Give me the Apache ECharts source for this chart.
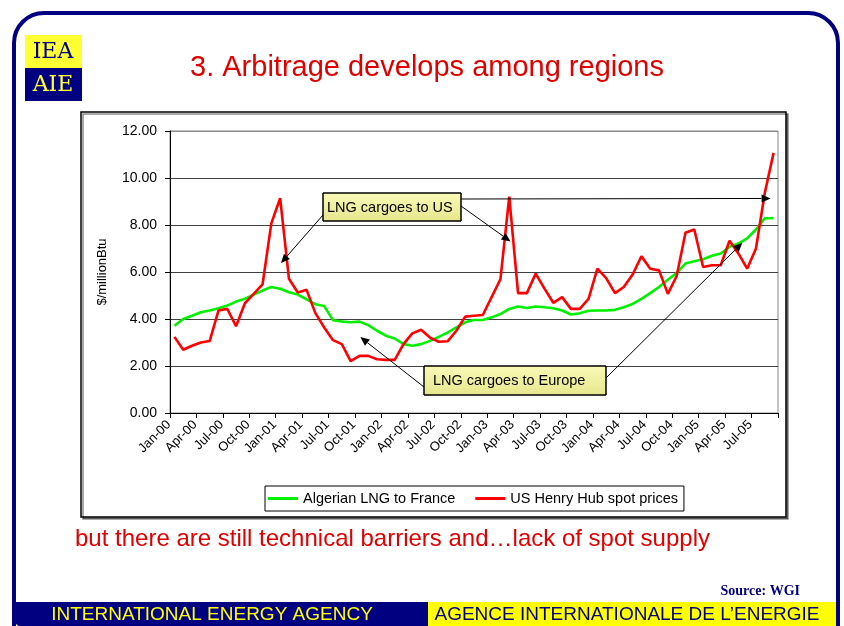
<!DOCTYPE html>
<html><head><meta charset="utf-8">
<script src="https://cdn.jsdelivr.net/npm/echarts@6/dist/echarts.min.js"></script>
<style>html,body{margin:0;padding:0;background:#fff}#c{width:844px;height:626px}</style>
</head><body><div id="c"></div>
<script>
// ---- data ----
const categories = ["Jan-00","Feb-00","Mar-00","Apr-00","May-00","Jun-00","Jul-00","Aug-00","Sep-00","Oct-00","Nov-00","Dec-00",
"Jan-01","Feb-01","Mar-01","Apr-01","May-01","Jun-01","Jul-01","Aug-01","Sep-01","Oct-01","Nov-01","Dec-01",
"Jan-02","Feb-02","Mar-02","Apr-02","May-02","Jun-02","Jul-02","Aug-02","Sep-02","Oct-02","Nov-02","Dec-02",
"Jan-03","Feb-03","Mar-03","Apr-03","May-03","Jun-03","Jul-03","Aug-03","Sep-03","Oct-03","Nov-03","Dec-03",
"Jan-04","Feb-04","Mar-04","Apr-04","May-04","Jun-04","Jul-04","Aug-04","Sep-04","Oct-04","Nov-04","Dec-04",
"Jan-05","Feb-05","Mar-05","Apr-05","May-05","Jun-05","Jul-05","Aug-05","Sep-05"];
const algerianLNG = [3.71,4.00,4.14,4.29,4.36,4.46,4.57,4.74,4.86,5.04,5.21,5.36,
5.29,5.14,5.04,4.84,4.63,4.55,3.95,3.89,3.86,3.89,3.74,3.50,
3.29,3.17,2.93,2.86,2.93,3.07,3.24,3.42,3.64,3.86,3.96,3.96,
4.07,4.21,4.43,4.53,4.47,4.53,4.50,4.46,4.36,4.19,4.24,4.35,
4.36,4.36,4.39,4.50,4.64,4.86,5.10,5.36,5.67,5.96,6.36,6.46,
6.54,6.69,6.79,7.07,7.21,7.43,7.81,8.29,8.29];
const henryHub = [3.24,2.69,2.86,3.00,3.06,4.36,4.43,3.69,4.67,5.07,5.47,8.07,
9.14,5.71,5.13,5.24,4.25,3.64,3.10,2.93,2.21,2.43,2.43,2.29,
2.26,2.26,2.93,3.39,3.54,3.21,3.03,3.05,3.50,4.10,4.14,4.17,
4.93,5.69,9.21,5.10,5.10,5.93,5.29,4.69,4.93,4.43,4.43,4.86,
6.14,5.74,5.10,5.36,5.89,6.67,6.14,6.07,5.07,5.83,7.67,7.81,
6.21,6.29,6.29,7.33,6.79,6.14,7.00,9.36,11.07];
const yTicks = [0,2,4,6,8,10,12];
const seriesNames = ["Algerian LNG to France","US Henry Hub spot prices"];
// annotation arrow tips in data coordinates [category index, value]
const annotTips = {us1:[12.1,6.38], us2:[38.15,7.3], us3:[67.66,9.13], eu1:[21.1,3.23], eu2:[64.45,7.24]};

const FONT = "Liberation Sans, Arial, Helvetica, sans-serif";
const NAVY = "#000080";

const chart = echarts.init(document.getElementById('c'), null, {renderer:'canvas'});

const staticGraphic = [
  {id:'frame', type:'rect', z:-20, shape:{x:14,y:13,width:824,height:640,r:[30,30,0,0]}, style:{fill:'#fff',stroke:NAVY,lineWidth:4}},
  {id:'footL', type:'rect', z:-19, shape:{x:12,y:602,width:416,height:26,r:[0,0,0,14]}, style:{fill:NAVY}},
  {id:'footR', type:'rect', z:-19, shape:{x:428,y:602,width:408,height:26}, style:{fill:'#ffff00'}},
  {id:'footRB', type:'rect', z:-19, shape:{x:836,y:590,width:4,height:40}, style:{fill:NAVY}},
  {id:'footT1', type:'text', z:-18, style:{x:212,y:615,text:'INTERNATIONAL ENERGY AGENCY',fill:'#ffff00',font:'19px '+FONT,textAlign:'center',textVerticalAlign:'middle'}},
  {id:'footT2', type:'text', z:-18, style:{x:627,y:615,text:'AGENCE INTERNATIONALE DE L\u2019ENERGIE',fill:NAVY,font:'19px '+FONT,textAlign:'center',textVerticalAlign:'middle'}},
  {id:'logoY', type:'rect', z:-18, shape:{x:25,y:35,width:57,height:33}, style:{fill:'#ffff33'}},
  {id:'logoB', type:'rect', z:-18, shape:{x:25,y:68,width:57,height:33}, style:{fill:NAVY}},
  {id:'logoT1', type:'text', z:-17, style:{x:53,y:52,text:'IEA',fill:NAVY,font:'22px DejaVu Serif',textAlign:'center',textVerticalAlign:'middle'}},
  {id:'logoT2', type:'text', z:-17, style:{x:53,y:85,text:'AIE',fill:'#ffff33',font:'22px DejaVu Serif',textAlign:'center',textVerticalAlign:'middle'}},
  {id:'title', type:'text', z:-18, style:{x:427,y:68,text:'3. Arbitrage develops among regions',fill:'#e00000',font:'29px '+FONT,textAlign:'center',textVerticalAlign:'middle'}},
  {id:'sub', type:'text', z:-18, style:{x:75,y:539,text:'but there are still technical barriers and\u2026lack of spot supply',fill:'#e00000',font:'24px '+FONT,textAlign:'left',textVerticalAlign:'middle'}},
  {id:'src', type:'text', z:-18, style:{x:800,y:591,text:'Source: WGI',fill:NAVY,font:'bold 14px Liberation Serif, Times New Roman, serif',textAlign:'right',textVerticalAlign:'middle'}},
  {id:'box', type:'rect', z:-15, shape:{x:81,y:112,width:705,height:405}, style:{fill:'#fff',stroke:'#000',lineWidth:1.5,shadowColor:'rgba(0,0,0,0.45)',shadowOffsetX:2,shadowOffsetY:2,shadowBlur:0}},
  {id:'boxUS', type:'rect', z:20, shape:{x:323,y:193,width:138,height:28}, style:{fill:new echarts.graphic.LinearGradient(0,0,0,1,[{offset:0,color:'#fafab8'},{offset:1,color:'#e6e68c'}]),stroke:'#000',lineWidth:1}},
  {id:'txtUS', type:'text', z:21, style:{x:327,y:207.5,text:'LNG cargoes to US',fill:'#000',font:'14.5px '+FONT,textVerticalAlign:'middle'}},
  {id:'boxEU', type:'rect', z:20, shape:{x:424,y:366,width:182,height:29}, style:{fill:new echarts.graphic.LinearGradient(0,0,0,1,[{offset:0,color:'#fafab8'},{offset:1,color:'#e6e68c'}]),stroke:'#000',lineWidth:1}},
  {id:'txtEU', type:'text', z:21, style:{x:433,y:381,text:'LNG cargoes to Europe',fill:'#000',font:'14.5px '+FONT,textVerticalAlign:'middle'}}
];

const tickInt = (i) => i % 3 === 0;

chart.setOption({
  animation:false,
  backgroundColor:'#fff',
  graphic: staticGraphic,
  grid:{left:170, top:131, width:608, height:282, show:true, borderColor:'#888', borderWidth:1, backgroundColor:'transparent'},
  legend:{
    data: seriesNames, left:265, top:486, orient:'horizontal',
    borderColor:'#000', borderWidth:1, backgroundColor:'#fff', padding:[5,6,5,3],
    itemWidth:30, itemHeight:3, itemGap:20, icon:'rect',
    textStyle:{fontFamily:FONT, fontSize:14.5, color:'#000'}
  },
  xAxis:{
    type:'category', data:categories, boundaryGap:true,
    axisLine:{lineStyle:{color:'#000',width:1}},
    axisTick:{show:true, interval:tickInt, length:5, lineStyle:{color:'#000'}},
    axisLabel:{interval:tickInt, rotate:45, fontFamily:FONT, fontSize:13, color:'#000', margin:4, padding:[0,8,0,0]},
    splitLine:{show:false}
  },
  yAxis:{
    type:'value', min:yTicks[0], max:yTicks[yTicks.length-1], interval:yTicks[1]-yTicks[0],
    name:'$/millionBtu', nameLocation:'middle', nameGap:61, nameRotate:90,
    nameTextStyle:{fontFamily:FONT, fontSize:13, color:'#000'},
    axisLine:{show:true, lineStyle:{color:'#000',width:1}},
    axisTick:{show:true, length:5, lineStyle:{color:'#000'}},
    axisLabel:{formatter:(v)=>v.toFixed(2), fontFamily:FONT, fontSize:14, color:'#000', margin:13},
    splitLine:{show:true, lineStyle:{color:['#404040','#404040','#404040','#404040','#404040','#404040','#888'], width:1}}
  },
  series:[
    {name:seriesNames[0], type:'line', data:algerianLNG, showSymbol:false, symbol:'none', z:3,
     lineStyle:{color:'#00f000', width:2.6}, itemStyle:{color:'#00f000'}},
    {name:seriesNames[1], type:'line', data:henryHub, showSymbol:false, symbol:'none', z:4,
     lineStyle:{color:'#ff0000', width:2.6}, itemStyle:{color:'#ff0000'}}
  ]
});

function toPx(ix, v){
  const a = Math.floor(ix), b = Math.min(a+1, categories.length-1), f = ix - a;
  const pa = chart.convertToPixel({seriesIndex:0}, [a, v]);
  const pb = chart.convertToPixel({seriesIndex:0}, [b, v]);
  return [pa[0] + (pb[0]-pa[0])*f, pa[1]];
}
function arrow(id, x1, y1, tip){
  const [x2, y2] = toPx(tip[0], tip[1]);
  const ang = Math.atan2(y2-y1, x2-x1), L = 9, W = 4;
  const bx = x2 - L*Math.cos(ang), by = y2 - L*Math.sin(ang);
  const nx = -Math.sin(ang)*W, ny = Math.cos(ang)*W;
  return [
    {id:id+'L', type:'line', z:19, shape:{x1:x1,y1:y1,x2:bx,y2:by}, style:{stroke:'#000',lineWidth:1}},
    {id:id+'H', type:'polygon', z:19, shape:{points:[[x2,y2],[bx+nx,by+ny],[bx-nx,by-ny]]}, style:{fill:'#000'}}
  ];
}
const arrows = [].concat(
  arrow('us1', 323, 215, annotTips.us1),
  arrow('us2', 461, 206, annotTips.us2),
  arrow('us3', 461, 199, annotTips.us3),
  arrow('eu1', 424, 387, annotTips.eu1),
  arrow('eu2', 606, 378, annotTips.eu2)
);
chart.setOption({graphic: staticGraphic.concat(arrows)});
</script></body></html>
